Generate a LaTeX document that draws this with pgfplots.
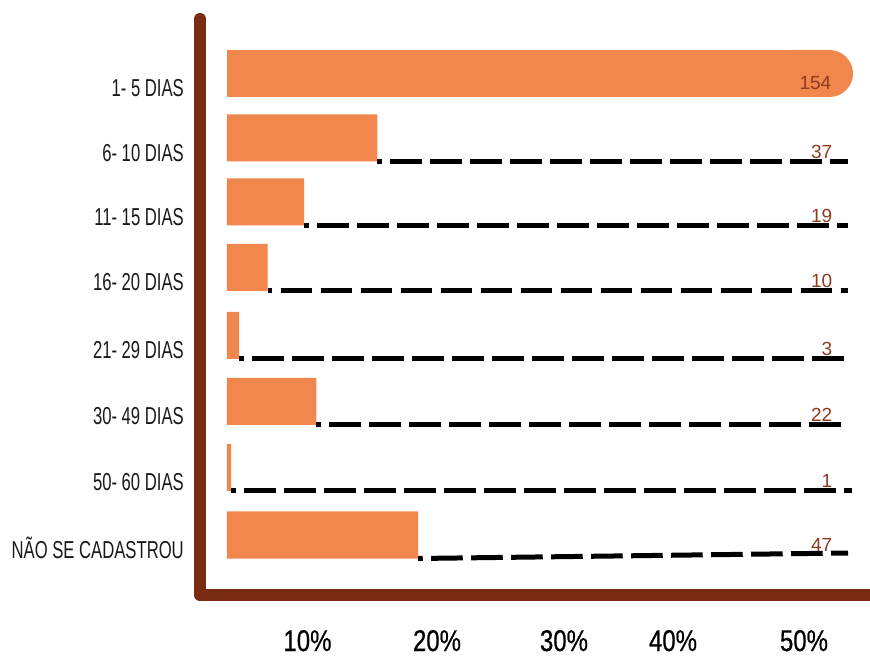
\documentclass[border=0pt]{standalone}
\usepackage{pgfplots}
\pgfplotsset{compat=1.18}
\usepackage{pgfplotstable}
\usetikzlibrary{arrows.meta}
\usepackage{fontspec}
\setmainfont{Liberation Sans}
\newfontfamily\catfont{Liberation Sans}[FakeStretch=0.68]
\newfontfamily\tickfont{Liberation Sans}[FakeStretch=0.8, FakeBold=0.6]

\definecolor{barorange}{RGB}{241,135,76}
\definecolor{framebrown}{RGB}{122,44,18}
\definecolor{valbrown}{RGB}{140,58,32}

% count of registrations per waiting period; bary = bar centre, base = bar foot
\pgfplotstableread{
count bary base
154 583.5 560
37  519   495.5
19  455   431.5
10  389.5 366
3   321.5 298
22  255.5 232
1   189.5 166
47  122   98.5
}\days

\begin{document}
\begin{tikzpicture}
\useasboundingbox (-200bp,-62bp) rectangle (670bp,595bp);
\begin{axis}[
  scale only axis,
  width=670bp, height=582bp,
  xmin=-6.642, xmax=158.18,
  ymin=62, ymax=644,
  clip=false,
  axis line style={draw=none},
  major tick length=0pt,
  ytick={560,495.5,431.5,366,298,232,166,98.5},
  yticklabels={1- 5 DIAS,6- 10 DIAS,11- 15 DIAS,16- 20 DIAS,21- 29 DIAS,30- 49 DIAS,50- 60 DIAS,NÃO SE CADASTROU},
  yticklabel style={font=\catfont\fontsize{24.5bp}{28bp}\selectfont, anchor=base east, inner sep=0pt, xshift=-16bp, text=black!90},
  xtick={19.80,51.66,82.90,109.72,141.94},
  xticklabels={10\%,20\%,30\%,40\%,50\%},
  xticklabel style={font=\tickfont\fontsize{30bp}{34bp}\selectfont, anchor=base, inner sep=0pt, text depth=0pt, yshift=-56bp},
  leader/.style={black, line width=5bp, dash pattern=on 31.7bp off 8.3bp, dash phase=27bp},
]
% frame
\draw[framebrown, line width=11.7bp, line cap=round, line join=round]
  (axis cs:-6.642,638.15) -- (axis cs:-6.642,61.7) -- (axis cs:165,61.7);

% longest bar with a rounded end
\addplot[barorange, line width=47bp, -{Round Cap}] coordinates {(0,583.5) (154,583.5)};
% remaining bars
\addplot[xbar, bar width=47, fill=barorange, draw=none, skip coords between index={0}{1}]
  table[x=count, y=bary] {\days};

% leader lines
\addplot[leader] coordinates {(37,495.5) (152.77,495.5)};
\addplot[leader] coordinates {(19,431.5) (152.77,431.5)};
\addplot[leader] coordinates {(10,366) (152.77,366)};
\addplot[leader] coordinates {(3,298) (152.77,298)};
\addplot[leader] coordinates {(22,232) (152.77,232)};
\addplot[leader] coordinates {(1,166) (153.7,166)};
\addplot[leader] coordinates {(47,98.5) (152.77,104)};

% value labels
\begin{scope}[every node/.style={anchor=base east, inner sep=0pt, text=valbrown, font=\fontsize{19bp}{22bp}\selectfont}]
\node at (axis cs:148.7,567) {154};
\node at (axis cs:148.95,498.5) {37};
\node at (axis cs:148.95,434.5) {19};
\node at (axis cs:148.95,369) {10};
\node at (axis cs:148.95,301) {3};
\node at (axis cs:148.95,235) {22};
\node at (axis cs:148.95,169) {1};
\node at (axis cs:148.95,106) {47};
\end{scope}
\end{axis}
\end{tikzpicture}
\end{document}
